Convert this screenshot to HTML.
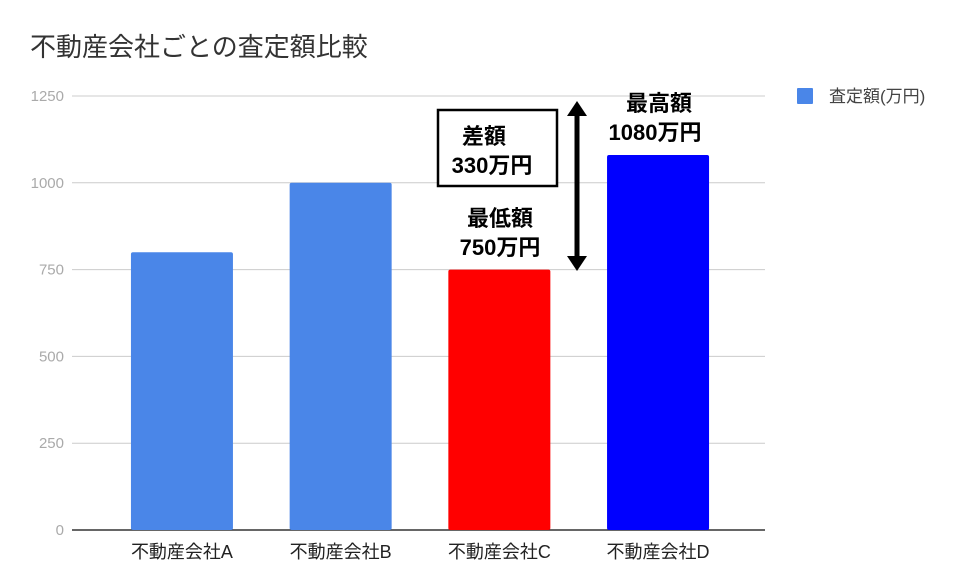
<!DOCTYPE html>
<html><head><meta charset="utf-8">
<style>
body{margin:0;background:#fff;}
svg{display:block;font-family:"Liberation Sans","Noto Sans CJK JP",sans-serif;}
</style></head>
<body>
<svg id="chart" width="953" height="567" viewBox="0 0 953 567">
<text x="30" y="56" font-size="26" fill="#333">不動産会社ごとの査定額比較</text>
<g id="grid"></g>
<g id="bars"></g>
<g id="xlabels"></g>
<g>
<rect x="797" y="88" width="16" height="16" rx="1" fill="#4a86e8"/>
<text x="829" y="102" font-size="17" fill="#444">査定額(万円)</text>
</g>
<g font-weight="bold" font-size="22" fill="#000" text-anchor="middle">
<rect x="438" y="110" width="119" height="76" fill="#fff" stroke="#000" stroke-width="2.5"/>
<text x="484" y="144">差額</text>
<text x="492" y="173">330万円</text>
<text x="500" y="226">最低額</text>
<text x="500" y="255">750万円</text>
<text x="659" y="111">最高額</text>
<text x="655" y="140">1080万円</text>
<g>
<line x1="577" y1="112" x2="577" y2="260" stroke="#000" stroke-width="5"/>
<polygon points="577,101 567,116 587,116" fill="#000"/>
<polygon points="577,271 567,256 587,256" fill="#000"/>
</g>
</g>
</svg>
<script>
const categories=["不動産会社A","不動産会社B","不動産会社C","不動産会社D"];
const values=[800,1000,750,1080];
const barColors=["#4a86e8","#4a86e8","#ff0000","#0000ff"];
const ticks=[0,250,500,750,1000,1250];
const NS="http://www.w3.org/2000/svg";
const x0=72,x1=765,yBase=530,yTop=96,yMax=1250;
const y=v=>yBase-(v/yMax)*(yBase-yTop);
const bandStart=102.6,step=158.7;
const xc=i=>bandStart+step*(i+0.5);
const bw=102;
const grid=document.getElementById('grid');
ticks.forEach(t=>{
  const l=document.createElementNS(NS,'line');
  
  
  l.setAttribute('x1',x0);l.setAttribute('x2',x1);
  l.setAttribute('y1',y(t));l.setAttribute('y2',y(t));
  l.setAttribute('stroke',t===0?'#333':'#ccc');l.setAttribute('stroke-width',t===0?1.5:1);
  grid.appendChild(l);
  const tx=document.createElementNS(NS,'text');
  
  
  tx.setAttribute('x',64);tx.setAttribute('y',y(t)+5);
  tx.setAttribute('text-anchor','end');tx.setAttribute('font-size','15');tx.setAttribute('fill','#aaa');
  tx.textContent=t;grid.appendChild(tx);
});
const bars=document.getElementById('bars'),xl=document.getElementById('xlabels');
categories.forEach((c,i)=>{
  const r=document.createElementNS(NS,'rect');
  
  
  r.setAttribute('x',xc(i)-bw/2);r.setAttribute('width',bw);
  r.setAttribute('y',y(values[i]));r.setAttribute('height',yBase-y(values[i]));
  r.setAttribute('rx',2);r.setAttribute('fill',barColors[i]);
  bars.appendChild(r);
  const t=document.createElementNS(NS,'text');
  
  
  t.setAttribute('x',xc(i));t.setAttribute('y',558);
  t.setAttribute('text-anchor','middle');t.setAttribute('font-size','18');t.setAttribute('fill','#222');
  t.textContent=c;xl.appendChild(t);
});
</script>
</body></html>
